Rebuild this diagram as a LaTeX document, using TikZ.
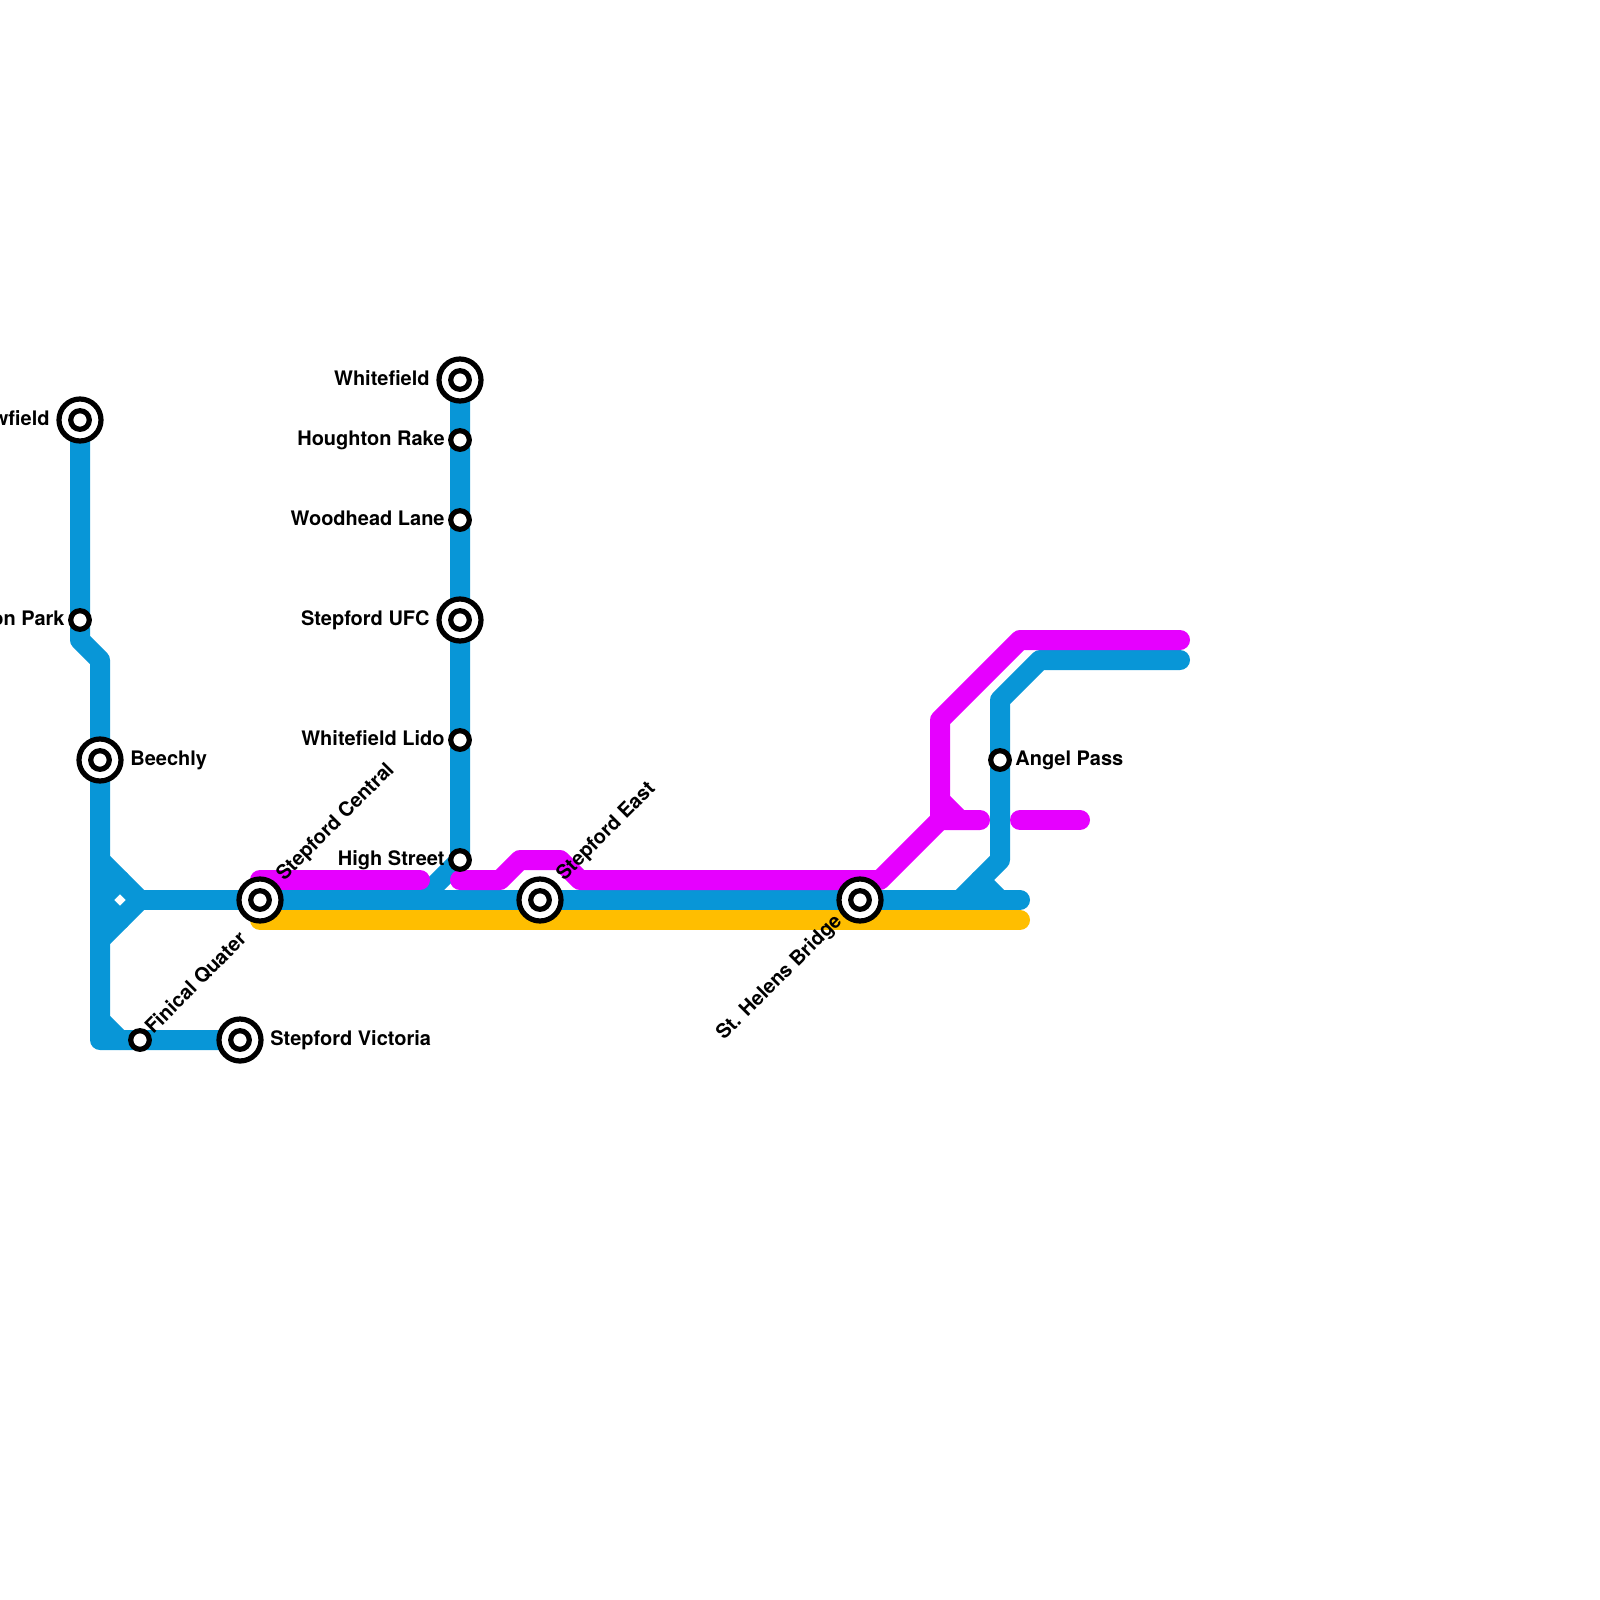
\documentclass[tikz,border=0pt]{standalone}
\usepackage{fontspec}
\setmainfont{TeX Gyre Heros}
\definecolor{lineblue}{HTML}{0896D7}
\definecolor{linemag}{HTML}{E600FF}
\definecolor{lineyel}{HTML}{FFBE00}
\tikzset{
  metro/.style={line width=10pt,line cap=round,line join=round},
  ringouter/.style={circle,draw=black,fill=white,line width=2.6pt,minimum size=21pt,inner sep=0pt},
  stop/.style={circle,draw=black,fill=white,line width=2.6pt,minimum size=9.3pt,inner sep=0pt},
  lbl/.style={font=\bfseries\fontsize{10pt}{12pt}\selectfont,inner sep=0pt,text=black},
  lblr/.style={lbl,anchor=base west},
  lbll/.style={lbl,anchor=base east},
  lbld/.style={lbl,anchor=base west,rotate=45},
  lbldl/.style={lbl,anchor=base east,rotate=45}
}
\begin{document}
\begin{tikzpicture}[x=0.5pt,y=-0.5pt]
\clip (0,0) rectangle (1600,1600);
% stations
\coordinate (newf) at (80,420);
\coordinate (park) at (80,620);
\coordinate (beech) at (100,760);
\coordinate (fin) at (140,1040);
\coordinate (vic) at (240,1040);
\coordinate (cen) at (260,900);
\coordinate (white) at (460,380);
\coordinate (hough) at (460,440);
\coordinate (wood) at (460,520);
\coordinate (ufc) at (460,620);
\coordinate (lido) at (460,740);
\coordinate (high) at (460,860);
\coordinate (east) at (540,900);
\coordinate (hel) at (860,900);
\coordinate (angel) at (1000,760);
% blue
\coordinate (b1) at (80,640); \coordinate (b2) at (100,660);
\coordinate (b3) at (100,1040); \coordinate (b4) at (100,1020); \coordinate (b5) at (120,1040);
\coordinate (d1) at (100,860); \coordinate (d2) at (140,900); \coordinate (d3) at (100,940);
\coordinate (d4) at (100,900); \coordinate (d5) at (120,880); \coordinate (d6) at (120,920);
\coordinate (h1) at (420,900); \coordinate (e1) at (1020,900);
\coordinate (r1) at (1180,660); \coordinate (r2) at (1040,660); \coordinate (r3) at (1000,700);
\coordinate (r4) at (1000,860); \coordinate (r5) at (960,900); \coordinate (r6) at (980,880); \coordinate (r7) at (1000,900);
\draw[metro,lineblue] (newf) -- (b1) -- (b2) -- (b3) -- (vic);
\draw[metro,lineblue] (b4) -- (b5);
\draw[metro,lineblue] (d1) -- (d2) -- (d3);
\draw[metro,lineblue] (d4) -- (d5) (d4) -- (d6);
\draw[metro,lineblue] (d2) -- (cen) -- (east) -- (hel) -- (e1);
\draw[metro,lineblue] (white) -- (high) -- (h1);
\draw[metro,lineblue] (r1) -- (r2) -- (r3) -- (r4) -- (r5);
\draw[metro,lineblue] (r6) -- (r7);
% yellow
\coordinate (y1) at (260,920); \coordinate (y2) at (1020,920);
\draw[metro,lineyel] (y1) -- (y2);
% magenta
\coordinate (m1) at (260,880); \coordinate (m2) at (420,880);
\coordinate (m3) at (460,880); \coordinate (m4) at (500,880); \coordinate (m5) at (520,860);
\coordinate (m6) at (560,860); \coordinate (m7) at (580,880); \coordinate (m8) at (880,880);
\coordinate (m9) at (940,820); \coordinate (m10) at (940,720); \coordinate (m11) at (1020,640);
\coordinate (m12) at (1180,640); \coordinate (m13) at (940,800); \coordinate (m14) at (960,820);
\coordinate (m15) at (980,820); \coordinate (m16) at (1020,820); \coordinate (m17) at (1080,820);
\draw[metro,linemag] (m1) -- (m2);
\draw[metro,linemag] (m3) -- (m4) -- (m5) -- (m6) -- (m7) -- (m8) -- (m9) -- (m10) -- (m11) -- (m12);
\draw[metro,linemag] (m13) -- (m14) -- (m15) (m9) -- (m14);
\draw[metro,linemag] (m16) -- (m17);
% station markers
\foreach \n in {newf,beech,vic,cen,white,ufc,east,hel}{
  \node[ringouter] (o\n) at (\n) {};
  \node[stop] (s\n) at (\n) {};
}
\foreach \n in {park,fin,hough,wood,lido,high,angel}{
  \node[stop] (s\n) at (\n) {};
}
% labels
\node[lbll] (lnewf) at ([shift={(-30,5.5)}]newf) {wfield};
\node[lbll] (lpark) at ([shift={(-15,5.5)}]park) {on Park};
\node[lblr] (lbeech) at ([shift={(30,5.5)}]beech) {Beechly};
\node[lblr] (lvic) at ([shift={(30,5.5)}]vic) {Stepford Victoria};
\node[lbll] (lwhite) at ([shift={(-30,5.5)}]white) {Whitefield};
\node[lbll] (lhough) at ([shift={(-15,5.5)}]hough) {Houghton Rake};
\node[lbll] (lwood) at ([shift={(-15,5.5)}]wood) {Woodhead Lane};
\node[lbll] (lufc) at ([shift={(-30,5.5)}]ufc) {Stepford UFC};
\node[lbll] (llido) at ([shift={(-15,5.5)}]lido) {Whitefield Lido};
\node[lbll] (lhigh) at ([shift={(-15,5.5)}]high) {High Street};
\node[lblr] (langel) at ([shift={(15,5.5)}]angel) {Angel Pass};
\node[lbld] (lcen) at ([shift={(24,-18)}]cen) {Stepford Central};
\node[lbld] (least) at ([shift={(24,-18)}]east) {Stepford East};
\node[lbld] (lfin) at ([shift={(13,-5)}]fin) {Finical Quater};
\node[lbldl] (lhel) at ([shift={(-17,22)}]hel) {St. Helens Bridge};
\end{tikzpicture}
\end{document}
